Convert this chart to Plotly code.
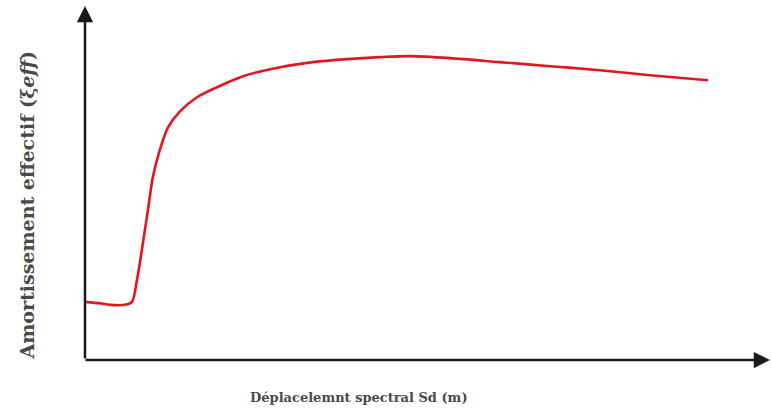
import plotly.graph_objects as go

# Arbitrary (unitless) values
sd = [0.0, 0.219, 0.364, 0.583, 0.685, 0.758, 0.845, 0.918, 0.991, 1.093, 1.210, 1.385,
      1.633, 1.924, 2.303, 2.843, 3.324, 3.819, 4.300, 4.738, 5.321, 6.050, 6.778,
      7.507, 8.236, 9.082]
xi_eff = [1.643, 1.601, 1.558, 1.558, 1.643, 2.266, 3.314, 4.249, 5.184, 5.949, 6.572, 7.025,
          7.422, 7.705, 8.017, 8.272, 8.414, 8.499, 8.555, 8.584, 8.527, 8.414, 8.300,
          8.187, 8.045, 7.904]

x_title = "Déplacelemnt spectral Sd (m)"
y_title = "Amortissement effectif (ξ<i>eff</i>)"

fig = go.Figure()
fig.add_trace(go.Scatter(
    x=sd, y=xi_eff, mode="lines",
    line=dict(color="#e3151f", width=2.6, shape="spline", smoothing=0.8),
    hoverinfo="skip", showlegend=False,
))

axis_color = "#1a1a1a"
# y axis with arrow
fig.add_annotation(xref="paper", yref="paper", x=0, y=1, ax=0, ay=354,
                   axref="pixel", ayref="pixel", text="", showarrow=True,
                   arrowhead=2, arrowsize=1.3, arrowwidth=2.5, arrowcolor=axis_color,
                   standoff=0)
# x axis with arrow
fig.add_annotation(xref="paper", yref="paper", x=1, y=0, ax=-687, ay=0,
                   axref="pixel", ayref="pixel", text="", showarrow=True,
                   arrowhead=2, arrowsize=1.3, arrowwidth=2.5, arrowcolor=axis_color,
                   standoff=0)

serif = "DejaVu Serif, Liberation Serif, serif"
fig.add_annotation(xref="paper", yref="paper", x=(359 - 85) / 686, y=-(397 - 360) / 353,
                   text=f"<b>{x_title}</b>", showarrow=False,
                   font=dict(family=serif, size=13, color="#4a4a4a"),
                   xanchor="center", yanchor="middle")
fig.add_annotation(xref="paper", yref="paper", x=-(85 - 27) / 686, y=(360 - 206) / 353,
                   text=f"<b>{y_title}</b>", showarrow=False, textangle=-90,
                   font=dict(family=serif, size=19, color="#4a4a4a"),
                   xanchor="center", yanchor="middle")

fig.update_xaxes(range=[0, 10], visible=False)
fig.update_yaxes(range=[0, 10], visible=False)
fig.update_layout(
    width=771, height=412,
    margin=dict(l=85, r=0, t=6, b=52, autoexpand=False),
    paper_bgcolor="white", plot_bgcolor="white",
)

fig.write_html("out.html",
               config={"displayModeBar": False, "staticPlot": True},
               post_script="document.body.style.margin='0';document.body.style.padding='0';")
